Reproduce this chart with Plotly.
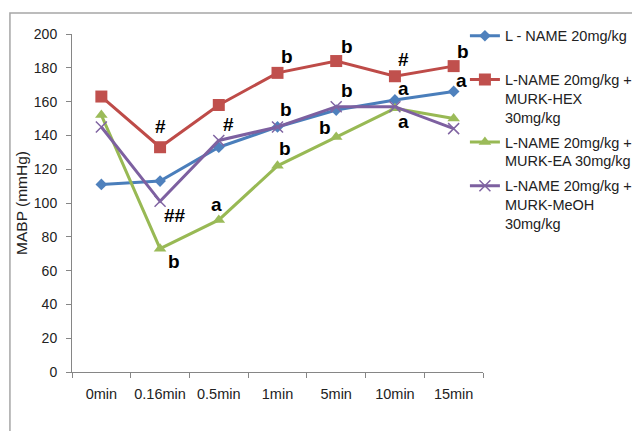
import plotly.graph_objects as go

categories = ["0min", "0.16min", "0.5min", "1min", "5min", "10min", "15min"]

series_names = [
    "L - NAME 20mg/kg<br> ",
    "L-NAME 20mg/kg +<br>MURK-HEX<br>30mg/kg",
    "L-NAME 20mg/kg +<br>MURK-EA 30mg/kg",
    "L-NAME 20mg/kg +<br>MURK-MeOH<br>30mg/kg",
]
lname = [111, 113, 133, 145, 155, 161, 166]
hex_vals = [163, 133, 158, 177, 184, 175, 181]
ea_vals = [152, 73, 90, 122, 139, 156, 150]
meoh_vals = [145, 101, 137, 145, 157, 157, 144]
series_values = [lname, hex_vals, ea_vals, meoh_vals]

line_colors = ["#4A7EBB", "#BE4B48", "#98B954", "#7D60A0"]
marker_colors = ["#4F81BD", "#C0504D", "#9BBB59", "#8064A2"]
symbols = ["diamond", "square", "triangle-up", "x-thin"]
marker_sizes = [9, 12, 11, 11]

# significance labels: text, category index, offset, y position
sig_text = ["#", "##", "b", "#", "a", "b", "b", "b", "b", "b", "b", "#", "a", "a", "b", "a"]
sig_cat = [1, 1, 1, 2, 2, 3, 3, 3, 4, 4, 4, 5, 5, 5, 6, 6]
sig_dx = [0.0, 0.25, 0.23, 0.16, -0.04, 0.16, 0.15, 0.12, 0.18, 0.18, -0.19, 0.15, 0.15, 0.15, 0.16, 0.14]
sig_y = [145, 92.5, 65.4, 146.7, 99, 186.4, 155.6, 132.5, 192.7, 166.6, 144.4, 185.2, 168, 148.3, 189.7, 172.4]

fig = go.Figure()
for i, (name, vals, lc, mc, sym, ms) in enumerate(zip(series_names, series_values, line_colors, marker_colors, symbols, marker_sizes)):
    marker = dict(symbol=sym, size=ms, color=mc)
    if sym == "x-thin":
        marker["line"] = dict(color=mc, width=1.5)
    else:
        marker["line"] = dict(color=mc, width=0)
    fig.add_trace(go.Scatter(
        x=categories, y=vals, name=name, mode="lines+markers",
        line=dict(color=lc, width=3), marker=marker, legendgroup="g%d" % i,
    ))

for t, c, dx, y in zip(sig_text, sig_cat, sig_dx, sig_y):
    fig.add_annotation(x=c + dx, y=y, text="<b>" + t + "</b>", showarrow=False,
                       font=dict(family="Liberation Sans, Arial", size=19, color="black"),
                       xref="x", yref="y")

axis_col = "#868686"
fig.update_layout(
    width=640, height=431,
    margin=dict(l=64, r=165, t=26, b=67, autoexpand=False),
    paper_bgcolor="white", plot_bgcolor="white",
    font=dict(family="Liberation Sans, Arial", size=14, color="#222222"),
    showlegend=True,
    legend=dict(x=0.956, xanchor="left", y=1.042, yanchor="top",
                font=dict(size=14.5, color="#222222"), valign="top",
                bgcolor="rgba(0,0,0,0)", tracegroupgap=3),
    xaxis=dict(type="category", range=[-0.5, 6.5], showgrid=False, zeroline=False,
               showline=True, linecolor=axis_col, linewidth=1,
               ticks="outside", ticklen=5, tickcolor=axis_col, tickson="boundaries",
               ticklabelstandoff=9, tickfont=dict(size=14.5), tickangle=0),
    yaxis=dict(range=[0, 200], dtick=20, showgrid=False, zeroline=False,
               showline=True, linecolor=axis_col, linewidth=1,
               ticks="outside", ticklen=5, tickcolor=axis_col, ticklabelstandoff=6,
               tickfont=dict(size=14),
               title=dict(text="MABP (mmHg)", font=dict(size=15.5), standoff=2)),
    shapes=[dict(type="rect", xref="paper", yref="paper",
                 x0=-0.151, x1=1.6, y0=-0.3, y1=1.062,
                 line=dict(color="#A6A6A6", width=1.5), fillcolor="rgba(0,0,0,0)")],
)

fig.write_html("out.html")
